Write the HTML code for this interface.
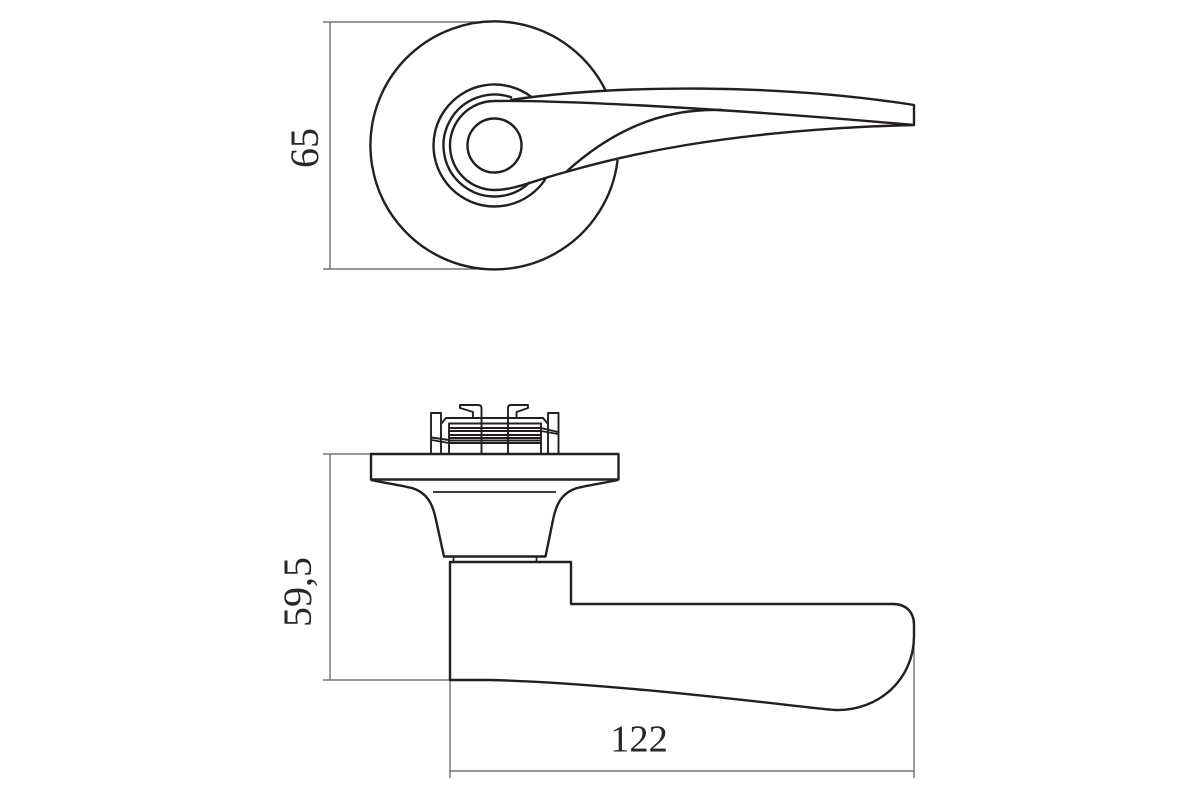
<!DOCTYPE html>
<html>
<head>
<meta charset="utf-8">
<style>
html,body{margin:0;padding:0;background:#fff;width:1200px;height:800px;overflow:hidden}
svg{display:block}
text{font-family:"Liberation Serif",serif;fill:#2a2627;font-size:40px}
.d{stroke:#5a5a5a;stroke-width:1.2;fill:none}
.m{stroke:#231f20;stroke-width:2.4;fill:none;stroke-linejoin:round}
.t{stroke:#231f20;stroke-width:1.7;fill:none}
.k{stroke:#231f20;stroke-width:1.9;fill:none;stroke-linejoin:round}
</style>
</head>
<body>
<svg width="1200" height="800" viewBox="0 0 1200 800" xmlns="http://www.w3.org/2000/svg">
<!-- dimension lines -->
<path class="d" d="M330 22V269M323 22H494M323 269H494"/>
<path class="d" d="M330 454V680M323 454H371M323 680H450"/>
<path class="d" d="M450 680V778M914 625V778M450 771H914"/>
<text transform="translate(318 148) rotate(-90)" text-anchor="middle">65</text>
<text transform="translate(311 592) rotate(-90)" text-anchor="middle">59,5</text>
<text x="639" y="751.500" text-anchor="middle" style="font-size:38.500px">122</text>

<!-- top view -->
<path class="m" d="M605.500 90.200A124 124 0 1 0 617.600 160"/>
<path class="m" d="M531 96.600A61 61 0 1 0 545.500 179"/>
<path class="m" d="M512 97.600A51 51 0 1 0 530 182.100"/>
<circle class="m" cx="494.500" cy="145.500" r="27"/>
<path class="m" d="M494.500 101A44.500 44.500 0 1 0 494.500 190C515 190 535 180 566 172C615 158 720 130 914 125V105C780 84 620 84 510 100"/>
<path class="m" d="M494.500 101C560 100 720 108 914 125"/>
<path class="m" d="M566 172C610 132 660 108 722 110"/>

<!-- side view: plate and rosette -->
<rect class="m" x="371" y="454" width="247.500" height="25.500"/>
<path class="m" d="M371 480C385 483 400 485 412 488C428 493 433 505 436 520L444 556.500H545.500L553 520C556 505 561 493 577 488C589 485 604 483 618 480"/>
<path class="t" d="M433 492H556"/>
<path class="t" d="M453.500 556.500V562M536.500 556.500V562"/>

<!-- handle -->
<path class="m" d="M450 680V562H571V604H893C906 604 914 612 914 625V636C914 680 878 711 836 710C818 709.500 620 683 490 680Z"/>

<!-- mechanism -->
<g class="k">
<path d="M431 454V413H441V454M548 454V413H558.500V454"/>
<path d="M441 424L446 418H543L548 424"/>
<path d="M449 454V423.500H541V454"/>
<path d="M449 428H541M449 431H541M449 435H541M449 438H541M449 440.500H541M449 443H541"/>
<path d="M481.500 454V408Q481.500 405 478 405H460V408L473 412V418"/>
<path d="M508 454V408Q508 405 511 405H528V408L516.500 412V418"/>
<path d="M431.500 437.500L449 440M541 428L558 432"/>
<path d="M431.500 440L449 443M541 431L558 434"/>
</g>
</svg>
</body>
</html>
